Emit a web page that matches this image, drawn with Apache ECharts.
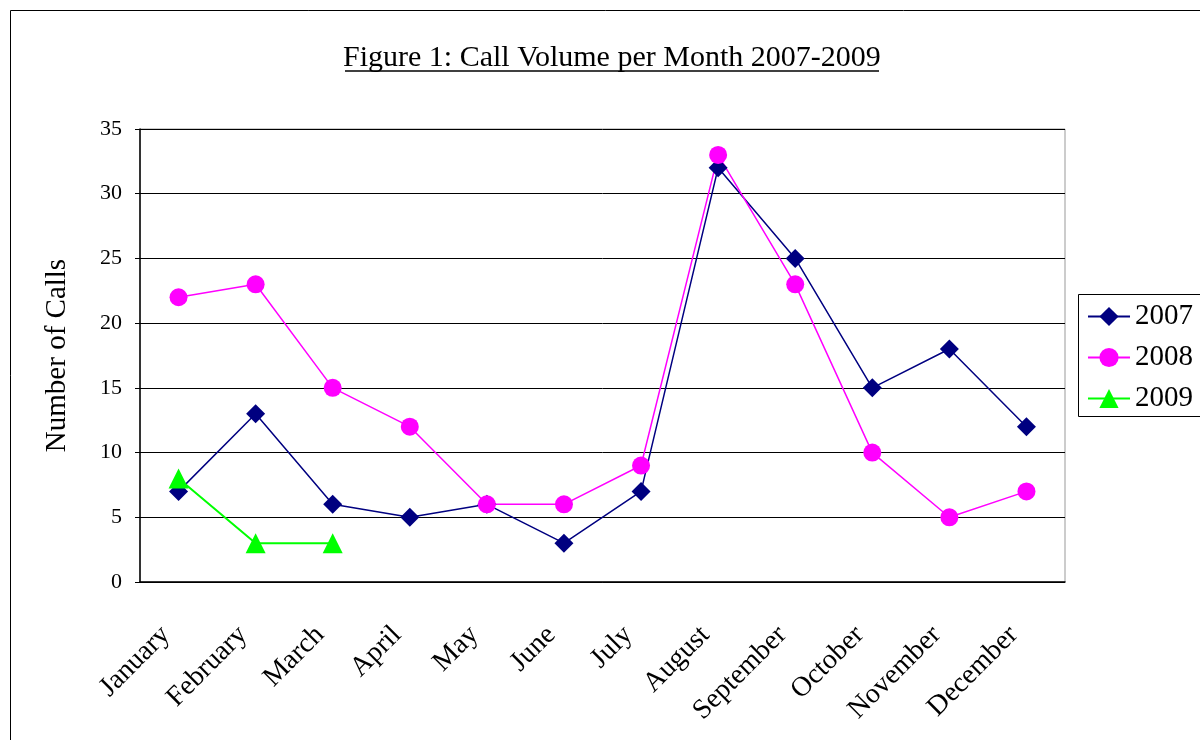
<!DOCTYPE html>
<html lang="en">
<head>
<meta charset="utf-8">
<title>Call Volume per Month</title>
<script src="https://cdn.jsdelivr.net/npm/echarts@6/dist/echarts.min.js"></script>
</head>
<body style="margin:0;background:#fff">
<div id="chart" style="width:1200px;height:740px"></div>
<script>
const months = ['January', 'February', 'March', 'April', 'May', 'June', 'July',
  'August', 'September', 'October', 'November', 'December'];
const calls2007 = [7, 13, 6, 5, 6, 3, 7, 32, 25, 15, 18, 12];
const calls2008 = [22, 23, 15, 12, 6, 6, 9, 33, 23, 10, 5, 7];
const calls2009 = [8, 3, 3];

const serif = '"Liberation Serif", "Times New Roman", serif';
let chart = echarts.init(document.getElementById('chart'));

let option = {
  animation: false,
  backgroundColor: '#fff',
  textStyle: { fontFamily: serif, color: '#000' },
  title: {
    text: 'Figure 1: Call Volume per Month 2007-2009',
    left: 343,
    top: 43,
    padding: 0,
    textStyle: { fontFamily: serif, fontSize: 30, fontWeight: 'normal', color: '#000' }
  },
  graphic: [
    // outer chart frame (runs off the right and bottom edges)
    { type: 'rect', shape: { x: 10.5, y: 10.5, width: 1300, height: 800 },
      style: { fill: 'none', stroke: '#000', lineWidth: 1 }, z: -1 },
    // title underline
    { type: 'line', shape: { x1: 345, y1: 71, x2: 879, y2: 71 },
      style: { stroke: '#000', lineWidth: 1.5 } },
    // legend frame
    { type: 'rect', shape: { x: 1078.5, y: 294.5, width: 140, height: 122 },
      style: { fill: '#fff', stroke: '#000', lineWidth: 1 }, z: 1 }
  ],
  legend: {
    orient: 'vertical',
    left: 1087,
    top: 302,
    padding: 0,
    itemGap: 12,
    itemWidth: 42,
    itemHeight: 24,
    zlevel: 1,
    textStyle: { fontFamily: serif, fontSize: 29, color: '#000' },
    data: ['2007', '2008', '2009']
  },
  grid: {
    left: 140, top: 129, width: 925, height: 453,
    show: true, borderColor: '#999', borderWidth: 1, backgroundColor: '#fff'
  },
  xAxis: {
    type: 'category',
    data: months,
    boundaryGap: true,
    axisLine: { lineStyle: { color: '#000', width: 1.5 } },
    axisTick: { inside: true, length: 8, interval: 0, lineStyle: { color: '#000' } },
    axisLabel: {
      interval: 0, rotate: 45, margin: 36, padding: [0, 18, 0, 0],
      fontFamily: serif, fontSize: 28, color: '#000'
    }
  },
  yAxis: {
    type: 'value',
    min: 0, max: 35, interval: 5,
    name: 'Number of Calls',
    nameLocation: 'middle',
    nameGap: 68,
    nameTextStyle: { fontFamily: serif, fontSize: 29, color: '#000' },
    axisLine: { show: true, lineStyle: { color: '#000', width: 1.5 } },
    axisTick: { show: true, length: 5, lineStyle: { color: '#000' } },
    axisLabel: { margin: 18, fontFamily: serif, fontSize: 22, color: '#000' },
    splitLine: { lineStyle: { color: '#000', width: 1 } }
  },
  series: [
    {
      name: '2007', type: 'line', data: calls2007,
      symbol: 'diamond', symbolSize: 19,
      itemStyle: { color: '#000080' },
      lineStyle: { color: '#000080', width: 1.5 }
    },
    {
      name: '2008', type: 'line', data: calls2008,
      symbol: 'circle', symbolSize: 18,
      itemStyle: { color: '#ff00ff' },
      lineStyle: { color: '#ff00ff', width: 1.5 }
    },
    {
      name: '2009', type: 'line', data: calls2009,
      symbol: 'triangle', symbolSize: 20,
      itemStyle: { color: '#00ff00' },
      lineStyle: { color: '#00ff00', width: 2 }
    }
  ]
};

chart.setOption(option);
</script>
</body>
</html>
